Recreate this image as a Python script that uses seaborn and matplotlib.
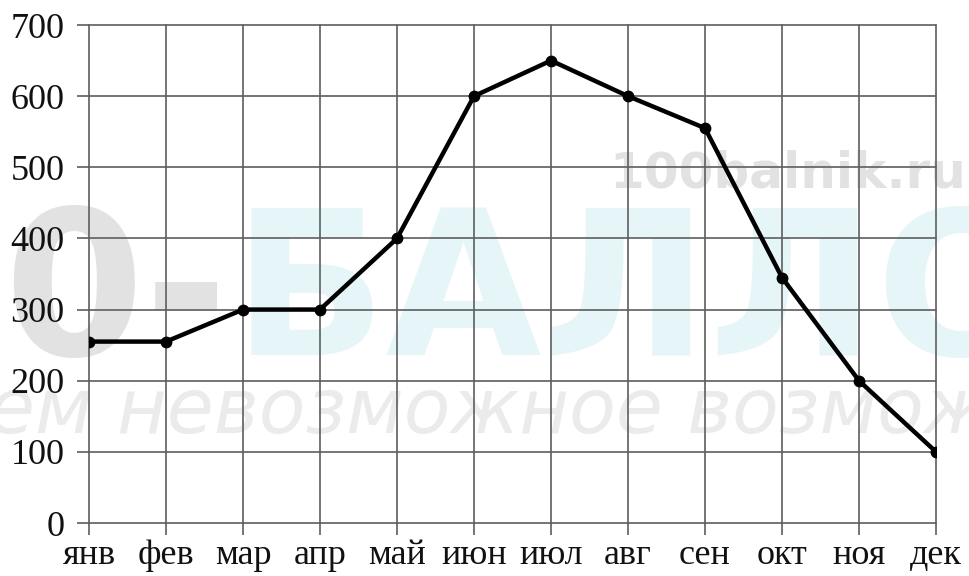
import matplotlib
matplotlib.use("Agg")
import matplotlib.pyplot as plt
import seaborn as sns
import pandas as pd

# Monthly values
months = ["янв", "фев", "мар", "апр", "май", "июн", "июл", "авг", "сен", "окт", "ноя", "дек"]
values = [255, 255, 300, 300, 400, 600, 650, 600, 555, 345, 200, 100]
y_ticks = [0, 100, 200, 300, 400, 500, 600, 700]

sns.set_theme(style="white")
plt.rcParams["font.family"] = ["Liberation Serif", "DejaVu Serif"]

W, H = 970, 576
fig = plt.figure(figsize=(W / 100, H / 100), dpi=100)
fig.patch.set_facecolor("white")


def fx(px):
    return px / W


def fy(py):
    return 1 - py / H


# Background watermark
fig.text(fx(228), fy(355), "100-", color="#e2e2e2", fontsize=145, fontweight="bold",
         family="DejaVu Sans", ha="right", va="baseline", zorder=-5)
fig.text(fx(233), fy(355), "БАЛЛОВ", color="#e6f5f7", fontsize=145, fontweight="bold",
         family="DejaVu Sans", ha="left", va="baseline", zorder=-5)
fig.text(fx(966), fy(188), "100balnik.ru", color="#e2e2e2", fontsize=36, fontweight="bold",
         family="DejaVu Sans", ha="right", va="baseline", zorder=-4)
fig.text(fx(-12), fy(433), "ем невозможное возможным", color="#ebebeb", fontsize=55,
         style="italic", family="DejaVu Sans", ha="left", va="baseline", zorder=-4)

left, right, top, bottom = 89, 936, 25, 523
ax = fig.add_axes([fx(left), fy(bottom), (right - left) / W, (bottom - top) / H])
ax.patch.set_alpha(0)

df = pd.DataFrame({"month": months, "value": values})
sns.lineplot(data=df, x="month", y="value", ax=ax, sort=False, color="black",
             linewidth=3.2, marker="o", markersize=8.5, markeredgewidth=0, zorder=5)

ax.set_xlim(0, len(months) - 1)
ax.set_ylim(0, 700)
ax.set_xticks(range(len(months)))
ax.set_xticklabels(months)
ax.set_yticks(y_ticks)
ax.set_xlabel("")
ax.set_ylabel("")

grid_color = "#5e5e5e"
ax.grid(True, color=grid_color, linewidth=1.2)
for gl in ax.get_xgridlines() + ax.get_ygridlines():
    gl.set_clip_on(False)
for s in ax.spines.values():
    s.set_visible(False)

ax.tick_params(axis="both", bottom=True, left=True, length=8.6, width=1.2,
               color=grid_color, labelcolor="#111111", labelsize=26)
ax.tick_params(axis="y", pad=9)
ax.tick_params(axis="x", pad=3)

fig.savefig("out.png", dpi=100)
